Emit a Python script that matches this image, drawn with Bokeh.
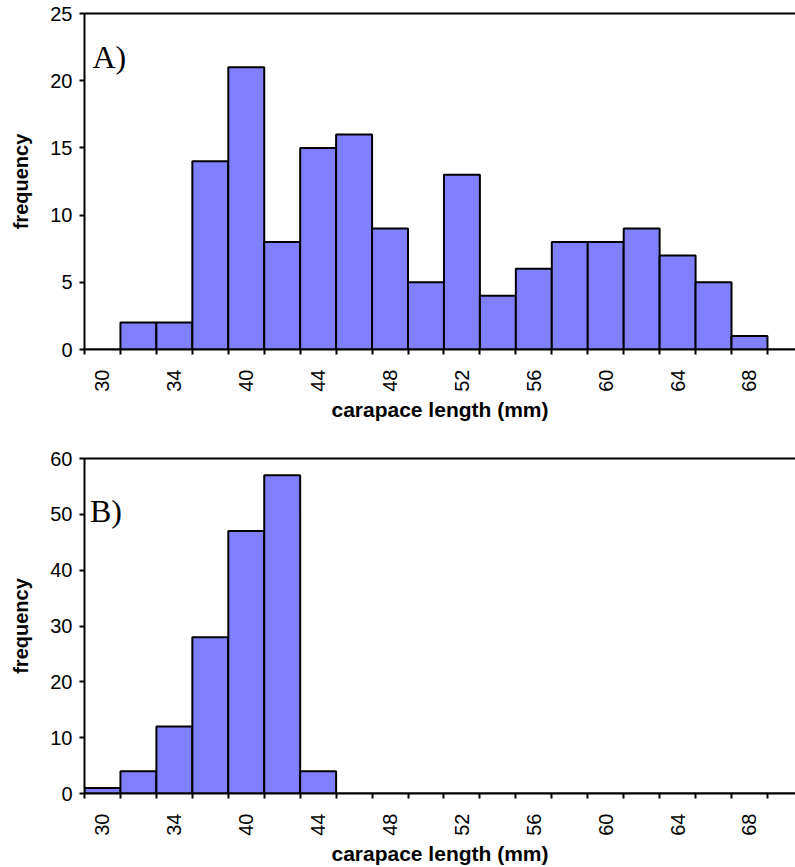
import math
from bokeh.plotting import figure
from bokeh.layouts import column
from bokeh.models import FixedTicker, LinearAxis, Label, Range1d
from bokeh.embed import file_html
from bokeh.resources import INLINE

# ---- data ----
tick_labels = ["30", "34", "40", "44", "48", "52", "56", "60", "64", "68"]
counts_a = [0, 2, 2, 14, 21, 8, 15, 16, 9, 5, 13, 4, 6, 8, 8, 9, 7, 5, 1, 0]
counts_b = [1, 4, 12, 28, 47, 57, 4, 0, 0, 0, 0, 0, 0, 0, 0, 0, 0, 0, 0, 0]
n_bins = len(counts_a)
centers = [i + 0.5 for i in range(n_bins)]

BAR = "#8080FF"
SANS = "Liberation Sans"
SERIF = "Liberation Serif"


def make_hist(counts, ymax, height, top_border, bottom_border, left_border,
              letter, lx, ly, y_ticks):
    p = figure(width=795, height=height, output_backend="svg", toolbar_location=None,
               x_range=Range1d(0, 19.78), y_range=Range1d(0, ymax),
               min_border_left=left_border, min_border_right=0,
               min_border_top=top_border, min_border_bottom=bottom_border)
    p.outline_line_color = None
    p.xgrid.visible = False
    p.ygrid.visible = False
    p.background_fill_color = "white"
    p.border_fill_color = "white"

    p.vbar(x=centers, top=counts, width=1.0, bottom=0,
           fill_color=BAR, line_color="black", line_width=2)

    # x axis: ticks at category boundaries, labels at every other category centre
    xa = p.xaxis[0]
    label_pos = [0.5 + 2 * i for i in range(len(tick_labels))]
    xa.ticker = FixedTicker(ticks=label_pos, minor_ticks=list(range(n_bins)))
    xa.major_label_overrides = {pos: lab for pos, lab in zip(label_pos, tick_labels)}
    xa.major_tick_out = 0
    xa.major_tick_in = 0
    xa.minor_tick_out = 5
    xa.minor_tick_in = 0
    xa.minor_tick_line_color = "black"
    xa.minor_tick_line_width = 2
    xa.axis_line_width = 2
    xa.axis_line_color = "black"
    xa.major_label_orientation = math.pi / 2
    xa.major_label_text_font = SANS
    xa.major_label_text_font_size = "20px"
    xa.major_label_text_color = "black"
    xa.major_label_standoff = 15
    xa.axis_label = "carapace length (mm)"
    xa.axis_label_text_font = SANS
    xa.axis_label_text_font_style = "bold"
    xa.axis_label_text_font_size = "21px"
    xa.axis_label_text_color = "black"
    xa.axis_label_standoff = 3

    ya = p.yaxis[0]
    ya.ticker = FixedTicker(ticks=y_ticks)
    ya.minor_tick_line_color = None
    ya.major_tick_out = 5
    ya.major_tick_in = 0
    ya.major_tick_line_width = 2
    ya.axis_line_width = 2
    ya.axis_line_color = "black"
    ya.major_label_text_font = SANS
    ya.major_label_text_font_size = "20px"
    ya.major_label_text_color = "black"
    ya.major_label_standoff = 7
    ya.axis_label = "frequency"
    ya.axis_label_text_font = SANS
    ya.axis_label_text_font_style = "bold"
    ya.axis_label_text_font_size = "20px"
    ya.axis_label_text_color = "black"
    ya.axis_label_standoff = 15

    # top border line only (no right border, cropped in reference)
    top = LinearAxis(ticker=FixedTicker(ticks=[]), major_tick_out=0, major_tick_in=0,
                     minor_tick_out=0, minor_tick_in=0, axis_line_width=2,
                     axis_line_color="black", major_label_text_font_size="0px")
    p.add_layout(top, "above")

    p.add_layout(Label(x=lx, y=ly, text=letter, text_font=SERIF,
                       text_font_size="32px", text_color="black",
                       text_baseline="alphabetic"))
    return p


p1 = make_hist(counts_a, 25, 430, 13, 81, 84, "A)", 0.22, 21.75, [0, 5, 10, 15, 20, 25])
p2 = make_hist(counts_b, 60, 437, 28, 73, 83, "B)", 0.15, 50.6, [0, 10, 20, 30, 40, 50, 60])

layout = column(p1, p2, spacing=0)
open("out.html", "w").write(file_html(layout, INLINE))
